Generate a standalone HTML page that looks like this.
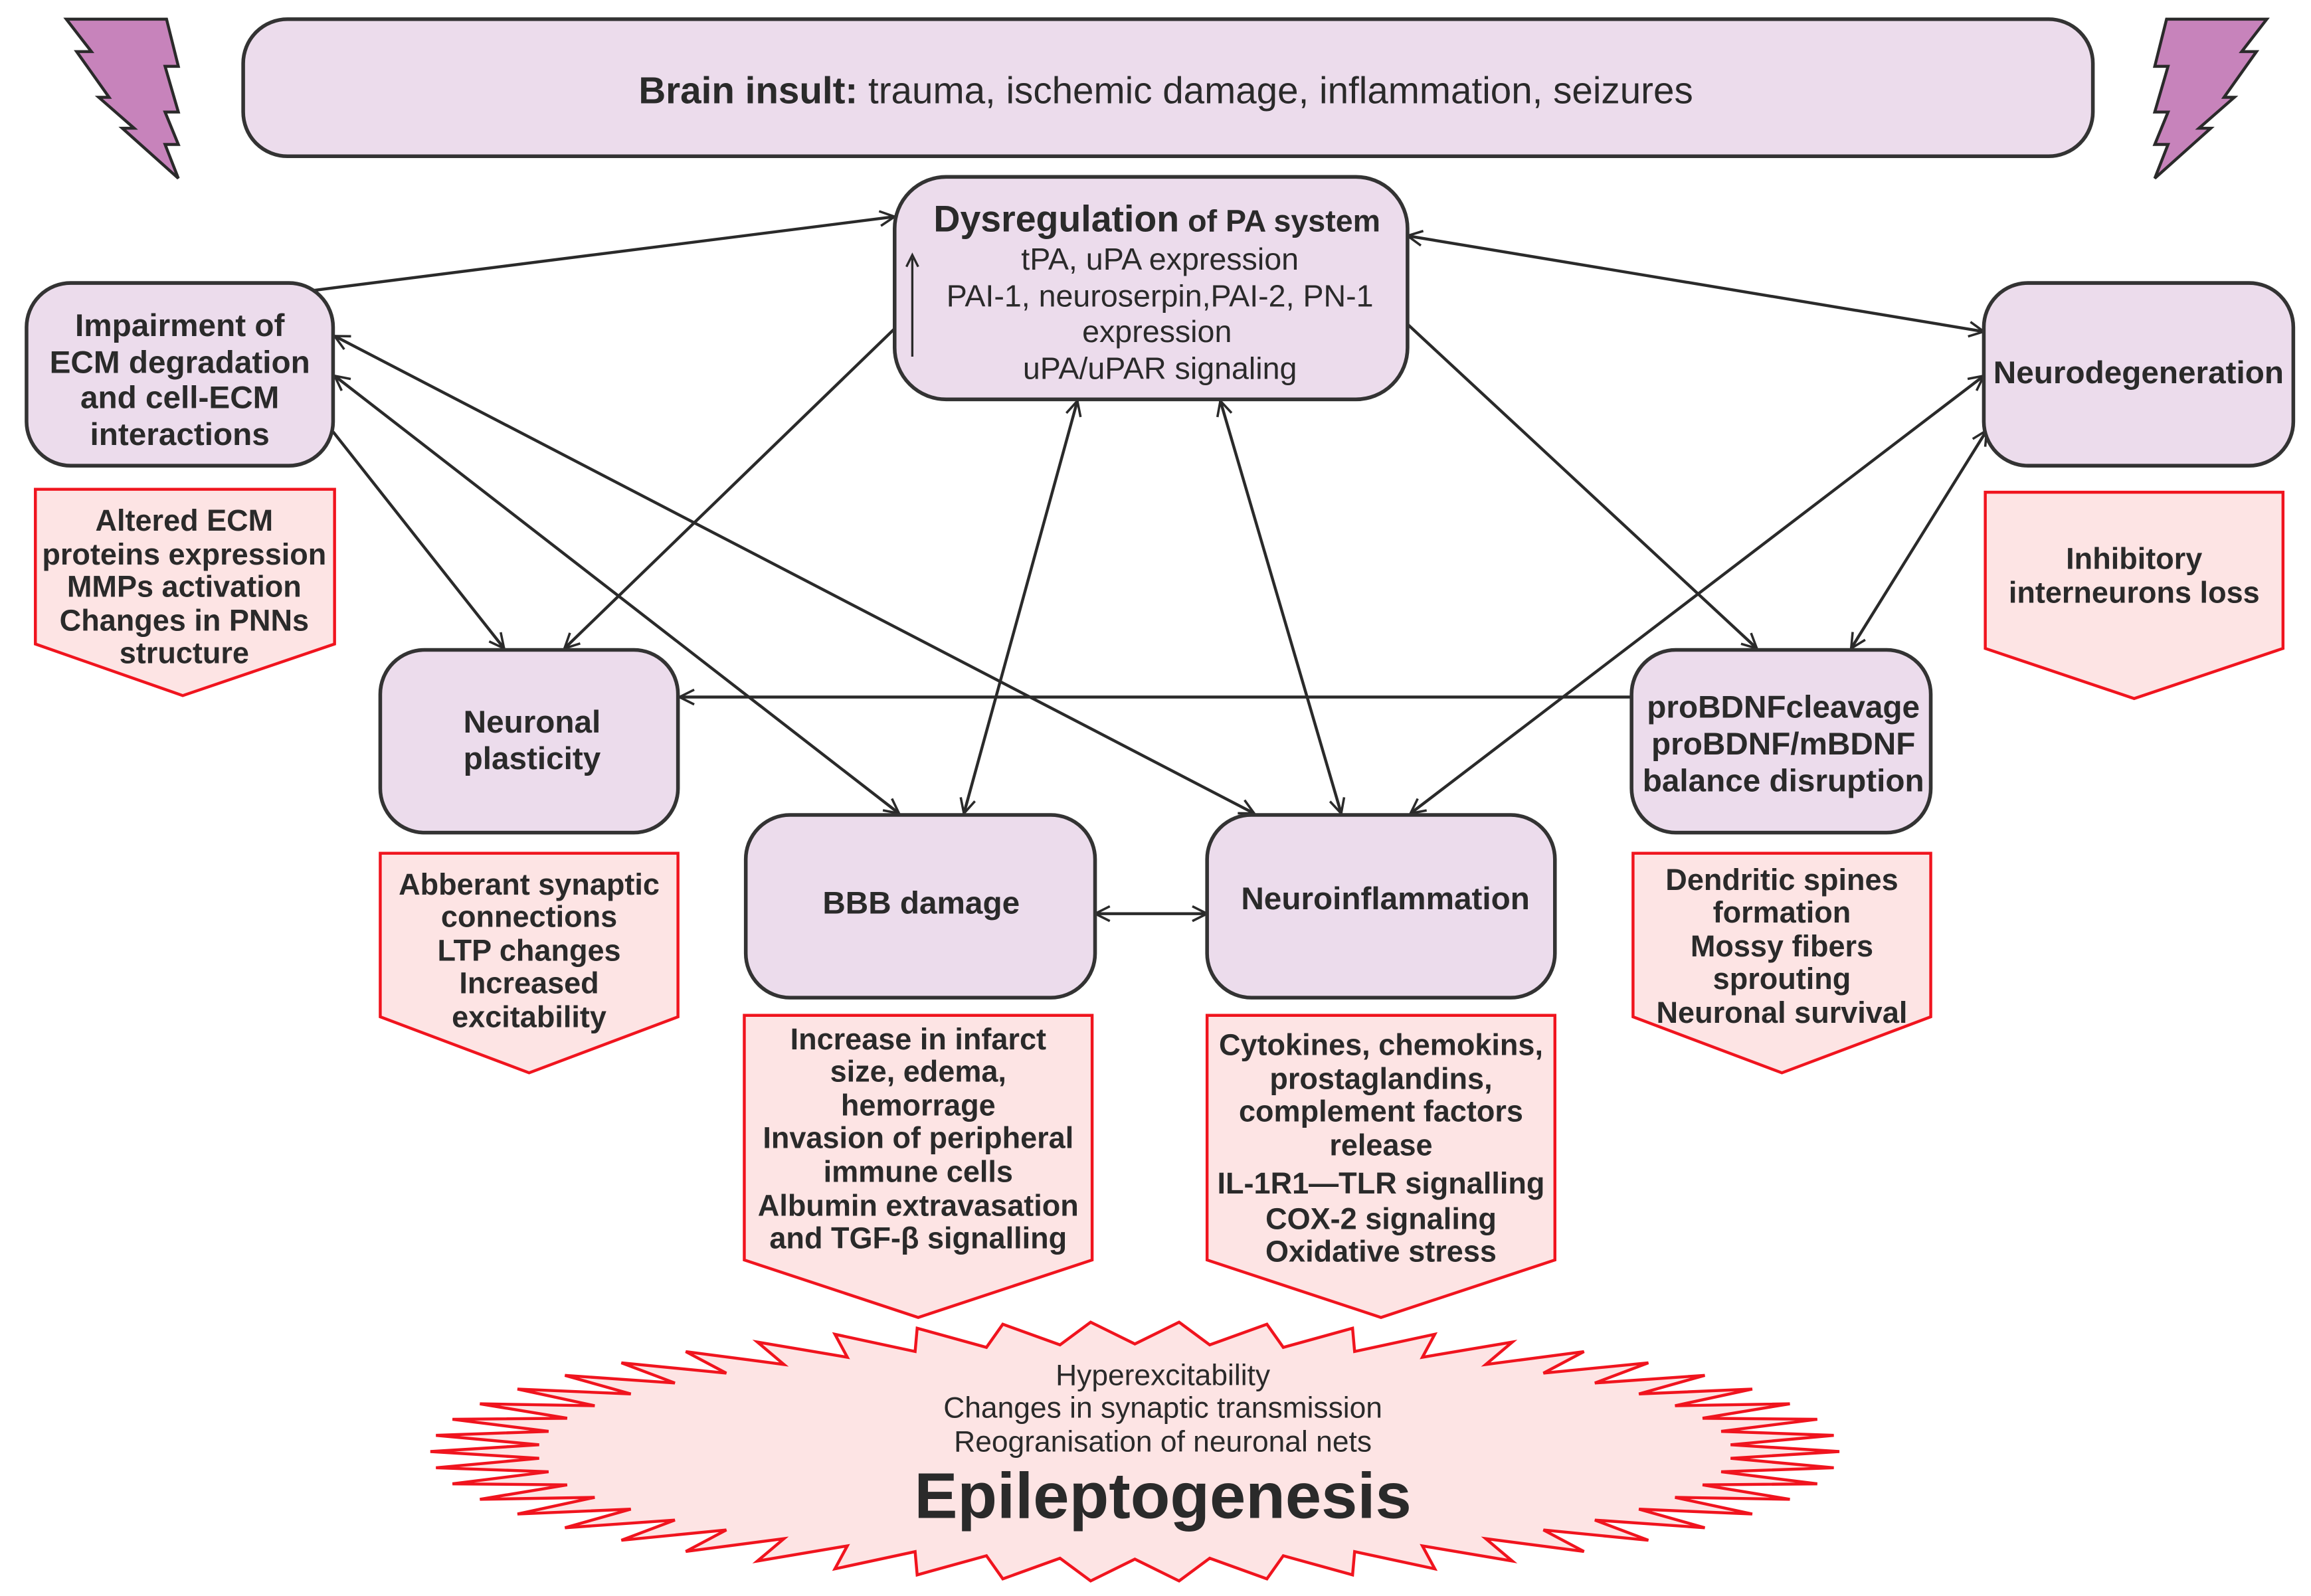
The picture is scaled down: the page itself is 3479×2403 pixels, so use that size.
<!DOCTYPE html>
<html><head><meta charset="utf-8"><style>
html,body{margin:0;padding:0;background:#fff;}
svg{display:block;}
text{font-family:"Liberation Sans",Arial,sans-serif;fill:#2a2a2a;}
.b{font-weight:bold;}
</style></head><body>
<svg id="s" width="3479" height="2403" viewBox="0 0 1568 1083" xmlns="http://www.w3.org/2000/svg">
<defs>
<marker id="ah" viewBox="0 0 12 12" refX="11" refY="6" markerWidth="12" markerHeight="12" markerUnits="userSpaceOnUse" orient="auto-start-reverse">
<path d="M1,1 L11,6 L1,11" fill="none" stroke="#2a2a2a" stroke-width="1.6"/>
</marker>
</defs>
<rect width="1568" height="1083" fill="#fff"/>

<polygon points="45,13 113,13 121,45 112,45 121,76 112,76 121,98 112,98 121,121 83,87 91,87 67,66 74,66 52,35 62,35" fill="#c783bb" stroke="#2a2a2a" stroke-width="2"/>
<polygon points="1538,13 1470,13 1462,45 1471,45 1462,76 1471,76 1462,98 1471,98 1462,121 1500,87 1492,87 1516,66 1509,66 1531,35 1521,35" fill="#c783bb" stroke="#2a2a2a" stroke-width="2"/>

<rect x="165" y="13" width="1255" height="93" rx="30" fill="#ecdcec" stroke="#333" stroke-width="2.5"/>
<text x="791" y="70" font-size="25.5" text-anchor="middle"><tspan class="b">Brain insult:</tspan> trauma, ischemic damage, inflammation, seizures</text>

<g stroke="#2a2a2a" stroke-width="2" fill="none">
<line x1="213" y1="197" x2="607" y2="147" marker-end="url(#ah)"/>
<line x1="955" y1="160" x2="1346" y2="225" marker-start="url(#ah)" marker-end="url(#ah)"/>
<line x1="607" y1="223" x2="383" y2="440" marker-end="url(#ah)"/>
<line x1="955" y1="220" x2="1192" y2="440" marker-end="url(#ah)"/>
<line x1="731" y1="272" x2="654" y2="552" marker-start="url(#ah)" marker-end="url(#ah)"/>
<line x1="828" y1="272" x2="910" y2="552" marker-start="url(#ah)" marker-end="url(#ah)"/>
<line x1="226" y1="293" x2="342" y2="440" marker-end="url(#ah)"/>
<line x1="227" y1="255" x2="610" y2="552" marker-start="url(#ah)" marker-end="url(#ah)"/>
<line x1="227" y1="228" x2="851" y2="552" marker-start="url(#ah)" marker-end="url(#ah)"/>
<line x1="1107" y1="473" x2="461" y2="473" marker-end="url(#ah)"/>
<line x1="1346" y1="255" x2="957" y2="552" marker-start="url(#ah)" marker-end="url(#ah)"/>
<line x1="1348" y1="292" x2="1256" y2="440" marker-start="url(#ah)" marker-end="url(#ah)"/>
<line x1="743" y1="620" x2="819" y2="620" marker-start="url(#ah)" marker-end="url(#ah)"/>
</g>

<g fill="#ecdcec" stroke="#333" stroke-width="2.5">
<rect x="607" y="120" width="348" height="151" rx="35"/>
<rect x="18" y="192" width="208" height="124" rx="30"/>
<rect x="1346" y="192" width="210" height="124" rx="30"/>
<rect x="258" y="441" width="202" height="124" rx="30"/>
<rect x="1107" y="441" width="203" height="124" rx="30"/>
<rect x="506" y="553" width="237" height="124" rx="30"/>
<rect x="819" y="553" width="236" height="124" rx="30"/>
</g>
<line x1="619" y1="242" x2="619" y2="175" stroke="#2a2a2a" stroke-width="1.5"/>
<path d="M615,181 L619,173 L623,181" fill="none" stroke="#2a2a2a" stroke-width="1.5"/>

<g text-anchor="middle">
<text x="785" y="157" font-size="25" class="b">Dysregulation<tspan font-size="21"> of PA system</tspan></text>
<text x="787" y="183" font-size="21">tPA, uPA expression</text>
<text x="787" y="208" font-size="21">PAI-1, neuroserpin,PAI-2, PN-1</text>
<text x="785" y="232" font-size="21">expression</text>
<text x="787" y="257" font-size="21">uPA/uPAR signaling</text>

<g class="b" font-size="21.5">
<text x="122" y="228">Impairment of</text>
<text x="122" y="253">ECM degradation</text>
<text x="122" y="277">and cell-ECM</text>
<text x="122" y="302">interactions</text>
<text x="1451" y="260">Neurodegeneration</text>
<text x="361" y="497">Neuronal</text>
<text x="361" y="522">plasticity</text>
<text x="1210" y="487">proBDNFcleavage</text>
<text x="1210" y="512">proBDNF/mBDNF</text>
<text x="1210" y="537">balance disruption</text>
<text x="625" y="620">BBB damage</text>
<text x="940" y="617">Neuroinflammation</text>
</g>
</g>

<g fill="#fde4e4" stroke="#f0141e" stroke-width="2">
<polygon points="24,332 227,332 227,437 124,472 24,437"/>
<polygon points="1347,334 1549,334 1549,440 1448,474 1347,440"/>
<polygon points="258,579 460,579 460,690 359,728 258,690"/>
<polygon points="505,689 741,689 741,855 623,894 505,855"/>
<polygon points="819,689 1055,689 1055,855 937,894 819,855"/>
<polygon points="1108,579 1310,579 1310,690 1209,728 1108,690"/>
</g>
<g class="b" font-size="20.3" text-anchor="middle">
<text x="125" y="360">Altered ECM</text>
<text x="125" y="383">proteins expression</text>
<text x="125" y="405">MMPs activation</text>
<text x="125" y="428">Changes in PNNs</text>
<text x="125" y="450">structure</text>
<text x="1448" y="386">Inhibitory</text>
<text x="1448" y="409">interneurons loss</text>
<text x="359" y="607">Abberant synaptic</text>
<text x="359" y="629">connections</text>
<text x="359" y="652">LTP changes</text>
<text x="359" y="674">Increased</text>
<text x="359" y="697">excitability</text>
<text x="623" y="712">Increase in infarct</text>
<text x="623" y="734">size, edema,</text>
<text x="623" y="757">hemorrage</text>
<text x="623" y="779">Invasion of peripheral</text>
<text x="623" y="802">immune cells</text>
<text x="623" y="825">Albumin extravasation</text>
<text x="623" y="847">and TGF-β signalling</text>
<text x="937" y="716">Cytokines, chemokins,</text>
<text x="937" y="739">prostaglandins,</text>
<text x="937" y="761">complement factors</text>
<text x="937" y="784">release</text>
<text x="937" y="810">IL-1R1—TLR signalling</text>
<text x="937" y="834">COX-2 signaling</text>
<text x="937" y="856">Oxidative stress</text>
<text x="1209" y="604">Dendritic spines</text>
<text x="1209" y="626">formation</text>
<text x="1209" y="649">Mossy fibers</text>
<text x="1209" y="671">sprouting</text>
<text x="1209" y="694">Neuronal survival</text>
</g>

<ellipse id="fb" cx="770" cy="985" rx="430" ry="74" fill="#fde4e4"/>
<polygon id="star" points="" fill="#fde4e4" stroke="#f0141e" stroke-width="2"/>
<g text-anchor="middle">
<text x="789" y="940" font-size="20">Hyperexcitability</text>
<text x="789" y="962" font-size="20">Changes in synaptic transmission</text>
<text x="789" y="985" font-size="20">Reogranisation of neuronal nets</text>
<text x="789" y="1030" font-size="44" class="b">Epileptogenesis</text>
</g>
</svg>
<script>
(function(){
var cx=770,cy=985,n=50,pts=[];
for(var i=0;i<n*2;i++){
 var a=Math.PI*i/n;
 var o=(i%2===0);
 var rx=o?478:405, ry=o?88:73;
 pts.push((cx+rx*Math.cos(a)).toFixed(1)+","+(cy+ry*Math.sin(a)).toFixed(1));
}
document.getElementById("star").setAttribute("points",pts.join(" "));
var fb=document.getElementById("fb");
fb.parentNode.removeChild(fb);
})();
</script>
</body></html>
